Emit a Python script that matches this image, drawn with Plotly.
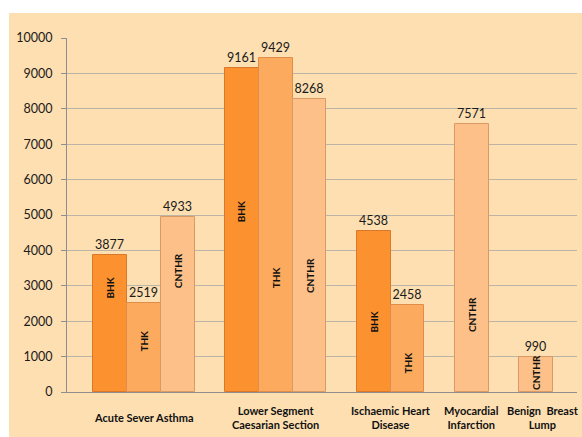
import plotly.graph_objects as go

# Diagnosis groups and counts per hospital
categories = [
    "Acute Sever Asthma",
    "Lower Segment<br>Caesarian Section",
    "Ischaemic Heart<br>Disease",
    "Myocardial<br>Infarction",
    "Benign&nbsp;&nbsp;Breast<br>Lump",
]
series_names = ["BHK", "THK", "CNTHR"]
bhk = [3877, 9161, 4538, None, None]
thk = [2519, 9429, 2458, None, None]
cnthr = [4933, 8268, None, 7571, 990]
y_ticks = [0, 1000, 2000, 3000, 4000, 5000, 6000, 7000, 8000, 9000, 10000]

series_values = [bhk, thk, cnthr]
colors = ["#FB912F", "#FBAA5E", "#FCC088"]
edges = ["#D9782A", "#DE8E4A", "#D99A66"]

# Height (in axis units) of the rotated series name drawn inside each bar
inner_label_y = {
    (0, 0): 2950, (0, 1): 1445, (0, 2): 3430,
    (1, 0): 5100, (1, 1): 3230, (1, 2): 3290,
    (2, 0): 1985, (2, 1): 820,
    (3, 2): 2195,
    (4, 2): 540,
}
# Horizontal nudge (px) of the last category label
label_xshift = [0, 0, 0, 0, 7]

# Bars of a group sit side by side; only present series take a slot
BAR_W = 1.0
GAP = 0.9
LEFT_PAD, RIGHT_PAD = 0.77, 0.71

positions = {s: [] for s in range(len(series_names))}
group_centers = []
cursor = 0.0
for c in range(len(categories)):
    start = cursor
    for s, vals in enumerate(series_values):
        if vals[c] is not None:
            positions[s].append((c, cursor + BAR_W / 2, vals[c]))
            cursor += BAR_W
    group_centers.append((start + cursor) / 2)
    cursor += GAP
x_end = cursor - GAP

fig = go.Figure()
annotations = []
for s, name in enumerate(series_names):
    xs = [p[1] for p in positions[s]]
    ys = [p[2] for p in positions[s]]
    fig.add_trace(go.Bar(
        x=xs, y=ys, name=name, width=BAR_W,
        marker=dict(color=colors[s], line=dict(color=edges[s], width=1)),
        texttemplate="%{y}", textposition="outside",
        textfont=dict(family="Lato", size=12.5, color="#1a1a1a"),
        cliponaxis=False,
    ))
    for c, x, v in positions[s]:
        annotations.append(dict(
            x=x, y=inner_label_y[(c, s)], xref="x", yref="y",
            text="<b>%s</b>" % name, showarrow=False, textangle=-90,
            font=dict(family="Lato", size=10, color="#111111"),
            xanchor="center", yanchor="middle",
        ))

# Category labels under the axis, vertically centred
for c, label in enumerate(categories):
    annotations.append(dict(
        x=group_centers[c], y=-0.072, xref="x", yref="paper",
        xshift=label_xshift[c],
        text="<b>%s</b>" % label, showarrow=False,
        font=dict(family="Lato", size=11, color="#111111"),
        xanchor="center", yanchor="middle", align="center",
    ))

fig.update_layout(
    width=582, height=437,
    margin=dict(l=67, r=5, t=38, b=45),
    paper_bgcolor="white",
    plot_bgcolor="rgba(0,0,0,0)",
    showlegend=False,
    bargap=0,
    annotations=annotations,
    shapes=[dict(
        type="rect", xref="paper", yref="paper",
        x0=-0.1137, x1=1.02, y0=-0.13, y1=1.0706,
        fillcolor="#FDDFB1", line=dict(width=0), layer="below",
    )],
    xaxis=dict(
        range=[-LEFT_PAD, x_end + RIGHT_PAD],
        showticklabels=False, showgrid=False, zeroline=False,
        showline=True, linecolor="#8E8E8E", linewidth=1,
    ),
    yaxis=dict(
        range=[0, 10000], tickvals=y_ticks,
        ticktext=[str(t) for t in y_ticks],
        showgrid=True, gridcolor="#BDB4A8", gridwidth=1,
        zeroline=False, showline=True, linecolor="#8E8E8E", linewidth=1,
        ticks="outside", ticklen=5, tickcolor="#8E8E8E",
        ticklabelstandoff=6,
        tickfont=dict(family="Lato", size=12.5, color="#1a1a1a"),
    ),
)

fig.write_html("out.html")
